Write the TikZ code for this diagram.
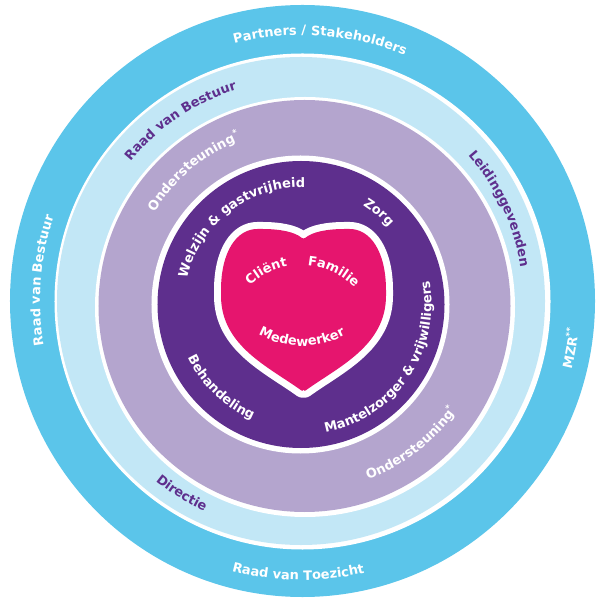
\documentclass[tikz,border=0pt]{standalone}
\usepackage{fontspec}
\setmainfont{DejaVu Sans}
\usetikzlibrary{decorations.text}
\definecolor{cblue}{HTML}{5BC5EA}
\definecolor{clight}{HTML}{C2E7F6}
\definecolor{clav}{HTML}{B4A5CE}
\definecolor{cpurple}{HTML}{5E2F8D}
\definecolor{cpink}{HTML}{E6156E}
\definecolor{ctext}{HTML}{5E2F8D}
\newcommand\lbl{\fontsize{9.75pt}{10pt}\selectfont\bfseries}
\newcommand\sast{\raisebox{0.45em}{\fontsize{6.5pt}{6.5pt}\selectfont *}}
% #1 colour, #2 centre, #3 radius, #4 start angle, #5 end angle, #6 text
\newcommand\arclabel[6]{%
  \path[decorate,decoration={text along path,text align=center,text color=#1,text={|\lbl|#6}}]
    ([shift={#2}]#4:#3) arc[start angle=#4, end angle=#5, radius=#3];}
\begin{document}
\begin{tikzpicture}[x=0.75pt,y=0.75pt]
\clip (-302,-297) rectangle (293,301);
\fill[white] (-302,-297) rectangle (293,301);
% rings
\fill[cblue] (0.5,0) ellipse[x radius=292.5, y radius=296];
\fill[white] (0.5,-0.5) circle[radius=248];
\fill[clight] (-1,0) circle[radius=244];
\fill[white] (3,-6) circle[radius=210];
\fill[clav] (2.5,-5) circle[radius=206];
\fill[white] (-1.5,-3.5) circle[radius=149];
\fill[cpurple] (-1,-3.5) circle[radius=143.5];
% heart
\path[preaction={draw=white, line width=10.5pt, line join=round}, fill=cpink, rounded corners=2pt]
  (1.5,-91) .. controls (-33,-66) and (-81,-45) .. (-81,8)
  .. controls (-81,50) and (-65,72) .. (-42,72)
  .. controls (-22,72) and (-7,69) .. (1.5,61.5)
  .. controls (10,69) and (25,72) .. (45,72)
  .. controls (68,72) and (84,50) .. (84,8)
  .. controls (84,-45) and (36,-66) .. (1.5,-91) -- cycle;
% outer ring labels
\arclabel{white}{(0,0)}{266}{126}{46}{Partners / Stakeholders}
\arclabel{white}{(0,0)}{262}{215.5}{135.5}{Raad van Bestuur}
\arclabel{white}{(0,0)}{278}{-40}{20}{MZR{\sast\sast}}
\arclabel{white}{(0,0)}{279}{229.2}{309.2}{Raad van Toezicht}
% light blue ring labels
\arclabel{ctext}{(0,0)}{221}{164}{84}{Raad van Bestuur}
\arclabel{ctext}{(0,0)}{221}{65}{-15}{Leidinggevenden}
\arclabel{ctext}{(0,0)}{232}{208}{268}{Directie}
% lavender ring labels
\arclabel{white}{(0,0)}{172}{180}{80}{Ondersteuning{\sast}}
\arclabel{white}{(0,0)}{190}{-102.5}{-2.5}{Ondersteuning{\sast}}
% purple ring labels
\arclabel{white}{(-1,-3.5)}{117}{197.5}{57.5}{Welzijn {\&} gastvrijheid}
\arclabel{white}{(-1,-3.5)}{117}{89.8}{9.8}{Zorg}
\arclabel{white}{(-1,-3.5)}{125}{176}{276}{Behandeling}
\arclabel{white}{(-1,-3.5)}{130.5}{-104.3}{35.7}{Mantelzorger {\&} vrijwilligers}
% heart labels
\arclabel{white}{(-1,-38)}{74}{152}{82}{Cliënt}
\arclabel{white}{(-1,-38)}{74}{99.3}{29.3}{Familie}
\arclabel{white}{(0,44)}{89}{220}{320}{Medewerker}
\end{tikzpicture}
\end{document}
